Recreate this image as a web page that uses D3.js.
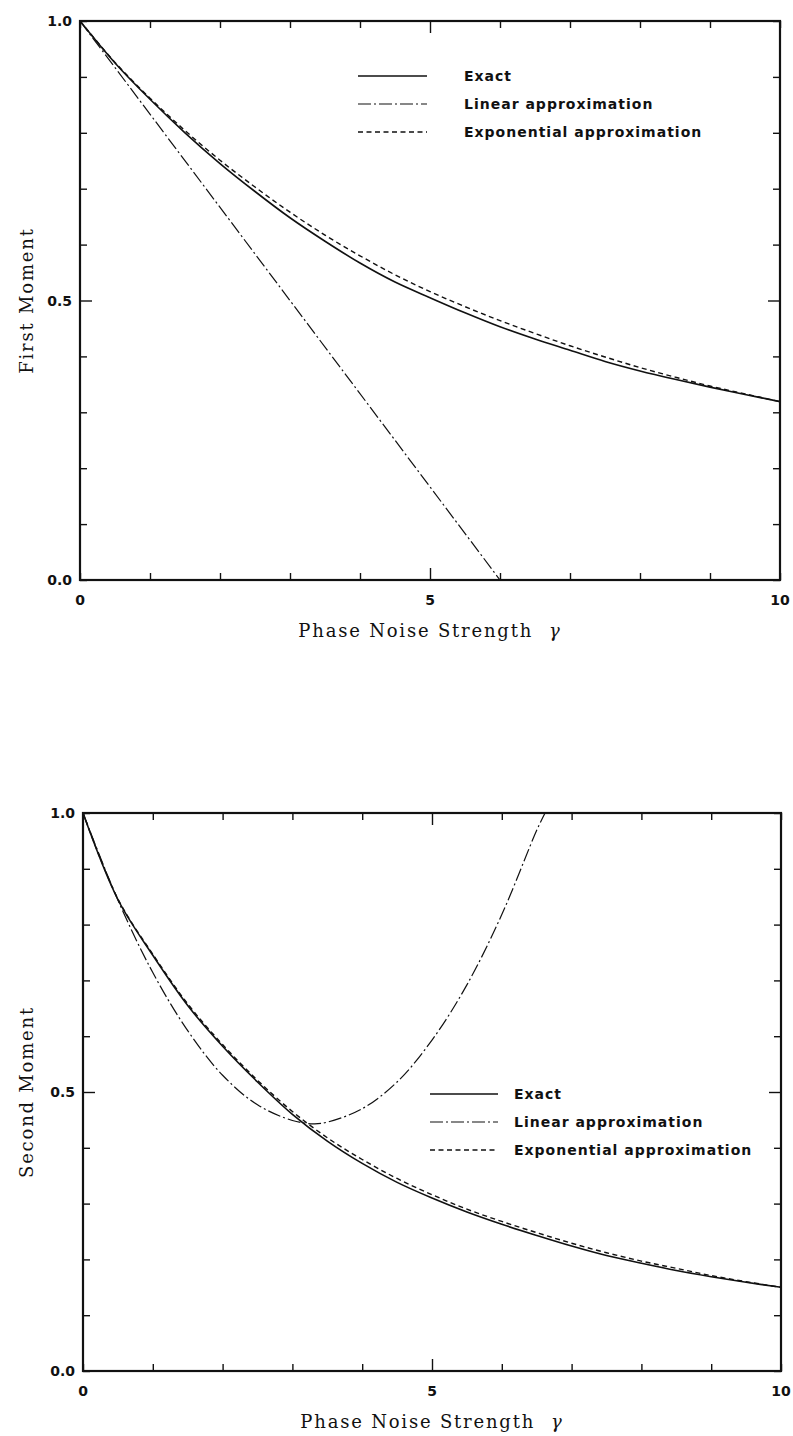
<!DOCTYPE html>
<html>
<head>
<meta charset="utf-8">
<script src="https://cdn.jsdelivr.net/npm/d3@7"></script>
<style>
  html, body { margin: 0; padding: 0; background: #fff; }
  svg { display: block; }
  .tick-label { font-family: "DejaVu Sans", sans-serif; font-weight: bold; font-size: 14px; fill: #111; }
  .axis-title { font-family: "DejaVu Serif", serif; font-size: 18px; letter-spacing: 1.8px; fill: #111; }
  .legend-text { font-family: "DejaVu Sans", sans-serif; font-weight: bold; font-size: 14px; letter-spacing: 1px; fill: #111; }
</style>
</head>
<body>
<svg id="fig" width="793" height="1436"></svg>
<script>
// Phase noise strength samples
const gamma = [0, 0.5, 1, 1.5, 2, 2.5, 3, 3.5, 4, 4.5, 5, 5.5, 6, 6.5, 7, 7.5, 8, 8.5, 9, 9.5, 10];

// First moment
const firstExact = [1.000, 0.925, 0.860, 0.800, 0.745, 0.695, 0.648, 0.606, 0.567, 0.533, 0.505,
                    0.478, 0.453, 0.431, 0.411, 0.391, 0.374, 0.359, 0.345, 0.332, 0.319];
const firstExpo  = [1.000, 0.926, 0.862, 0.804, 0.751, 0.703, 0.658, 0.617, 0.580, 0.546, 0.516,
                    0.489, 0.464, 0.441, 0.419, 0.399, 0.380, 0.363, 0.347, 0.333, 0.319];
const firstLinGamma = [0, 6];
const firstLinear   = [1.0, 0.0];

// Second moment
const secondExact = [1.000, 0.845, 0.745, 0.655, 0.582, 0.518, 0.460, 0.412, 0.372, 0.338, 0.310,
                     0.285, 0.263, 0.243, 0.224, 0.207, 0.193, 0.180, 0.169, 0.159, 0.150];
const secondExpo  = [1.000, 0.846, 0.747, 0.658, 0.585, 0.521, 0.465, 0.418, 0.379, 0.345, 0.316,
                     0.290, 0.268, 0.248, 0.229, 0.212, 0.197, 0.184, 0.171, 0.160, 0.150];
const secondLinGamma = [0, 0.5, 1, 1.5, 2, 2.5, 3, 3.3, 3.5, 4, 4.5, 5, 5.5, 6, 6.5, 6.62];
const secondLinear   = [1.000, 0.844, 0.714, 0.610, 0.530, 0.477, 0.449, 0.443, 0.446, 0.470,
                        0.518, 0.593, 0.692, 0.818, 0.969, 1.000];

// Axes
const xTickValues = [0, 1, 2, 3, 4, 5, 6, 7, 8, 9, 10];
const xTickLabels = ["0", "", "", "", "", "5", "", "", "", "", "10"];
const yTickValues = [0, 0.1, 0.2, 0.3, 0.4, 0.5, 0.6, 0.7, 0.8, 0.9, 1.0];
const yTickLabels = ["0.0", "", "", "", "", "0.5", "", "", "", "", "1.0"];
const xMajor = [5];
const yMajor = [0.5];

const seriesNames = ["Exact", "Linear approximation", "Exponential approximation"];
const seriesDash  = [null, "13,3,2,3", "5,3.5"];
const seriesWidth = [1.6, 1.2, 1.4];

const svg = d3.select("#fig");

function panel(opts) {
  const { box, yTitle, exact, expo, linG, linV, legend } = opts;
  const x = d3.scaleLinear().domain([0, 10]).range([box.left, box.right]);
  const y = d3.scaleLinear().domain([0, 1]).range([box.bottom, box.top]);
  const g = svg.append("g");

  const clipId = "clip" + box.top;
  g.append("clipPath").attr("id", clipId)
    .append("rect").attr("x", box.left).attr("y", box.top)
    .attr("width", box.right - box.left).attr("height", box.bottom - box.top);

  const minor = 7, major = 12;
  const xLen = d => xMajor.includes(d) ? major : minor;
  const yLen = d => yMajor.some(v => Math.abs(v - d) < 1e-9) ? major : minor;

  // inward ticks on all four sides
  const ax = [
    { gen: d3.axisBottom(x), t: `translate(0,${box.bottom})`, vals: xTickValues, isX: true, sign: -1 },
    { gen: d3.axisTop(x),    t: `translate(0,${box.top})`,    vals: xTickValues, isX: true, sign: 1 },
    { gen: d3.axisLeft(y),   t: `translate(${box.left},0)`,   vals: yTickValues, isX: false, sign: 1 },
    { gen: d3.axisRight(y),  t: `translate(${box.right},0)`,  vals: yTickValues, isX: false, sign: -1 }
  ];
  ax.forEach(a => {
    const sel = g.append("g").attr("transform", a.t)
      .call(a.gen.tickValues(a.vals).tickSizeOuter(0).tickFormat(""));
    sel.select(".domain").remove();
    sel.selectAll(".tick line")
      .attr("stroke", "#111").attr("stroke-width", 1.4)
      .each(function(d) {
        const len = (a.isX ? xLen(d) : yLen(d)) * a.sign;
        if (a.isX) d3.select(this).attr("y2", len);
        else d3.select(this).attr("x2", len);
      });
  });

  // frame
  g.append("rect")
    .attr("x", box.left).attr("y", box.top)
    .attr("width", box.right - box.left).attr("height", box.bottom - box.top)
    .attr("fill", "none").attr("stroke", "#111").attr("stroke-width", 2.2);

  // tick labels
  g.selectAll(".xl").data(xTickValues.map((v, i) => [v, xTickLabels[i]]).filter(d => d[1]))
    .enter().append("text").attr("class", "tick-label")
    .attr("x", d => x(d[0])).attr("y", box.bottom + 25)
    .attr("text-anchor", "middle").text(d => d[1]);
  g.selectAll(".yl").data(yTickValues.map((v, i) => [v, yTickLabels[i]]).filter(d => d[1]))
    .enter().append("text").attr("class", "tick-label")
    .attr("x", box.left - 8).attr("y", d => y(d[0]) + 5)
    .attr("text-anchor", "end").text(d => d[1]);

  // axis titles
  const xt = g.append("text").attr("class", "axis-title")
    .attr("x", (box.left + box.right) / 2).attr("y", box.bottom + 57)
    .attr("text-anchor", "middle");
  xt.append("tspan").text("Phase Noise Strength");
  xt.append("tspan").attr("dx", 16).attr("font-style", "italic").text("γ");
  g.append("text").attr("class", "axis-title")
    .attr("transform", `translate(33,${(box.top + box.bottom) / 2}) rotate(-90)`)
    .attr("text-anchor", "middle").text(yTitle);

  // curves
  const line = d3.line().x(d => x(d[0])).y(d => y(d[1])).curve(d3.curveCatmullRom.alpha(0.5));
  const curves = [
    gamma.map((v, i) => [v, exact[i]]),
    linG.map((v, i) => [v, linV[i]]),
    gamma.map((v, i) => [v, expo[i]])
  ];
  const plot = g.append("g").attr("clip-path", `url(#${clipId})`);
  curves.forEach((pts, i) => {
    plot.append("path").datum(pts)
      .attr("d", line)
      .attr("fill", "none").attr("stroke", "#111")
      .attr("stroke-width", seriesWidth[i])
      .attr("stroke-dasharray", seriesDash[i]);
  });

  // legend
  const lg = g.append("g");
  seriesNames.forEach((name, i) => {
    const yy = legend.y + i * 28;
    lg.append("line")
      .attr("x1", legend.x1).attr("x2", legend.x2).attr("y1", yy).attr("y2", yy)
      .attr("stroke", "#111").attr("stroke-width", seriesWidth[i])
      .attr("stroke-dasharray", seriesDash[i]);
    lg.append("text").attr("class", "legend-text")
      .attr("x", legend.tx).attr("y", yy + 5).text(name);
  });
}

panel({
  box: { left: 80, right: 780, top: 21, bottom: 580 },
  yTitle: "First Moment",
  exact: firstExact, expo: firstExpo, linG: firstLinGamma, linV: firstLinear,
  legend: { x1: 358, x2: 427, tx: 464, y: 76 }
});
panel({
  box: { left: 83, right: 781, top: 813, bottom: 1371 },
  yTitle: "Second Moment",
  exact: secondExact, expo: secondExpo, linG: secondLinGamma, linV: secondLinear,
  legend: { x1: 430, x2: 498, tx: 514, y: 1094 }
});
</script>
</body>
</html>
